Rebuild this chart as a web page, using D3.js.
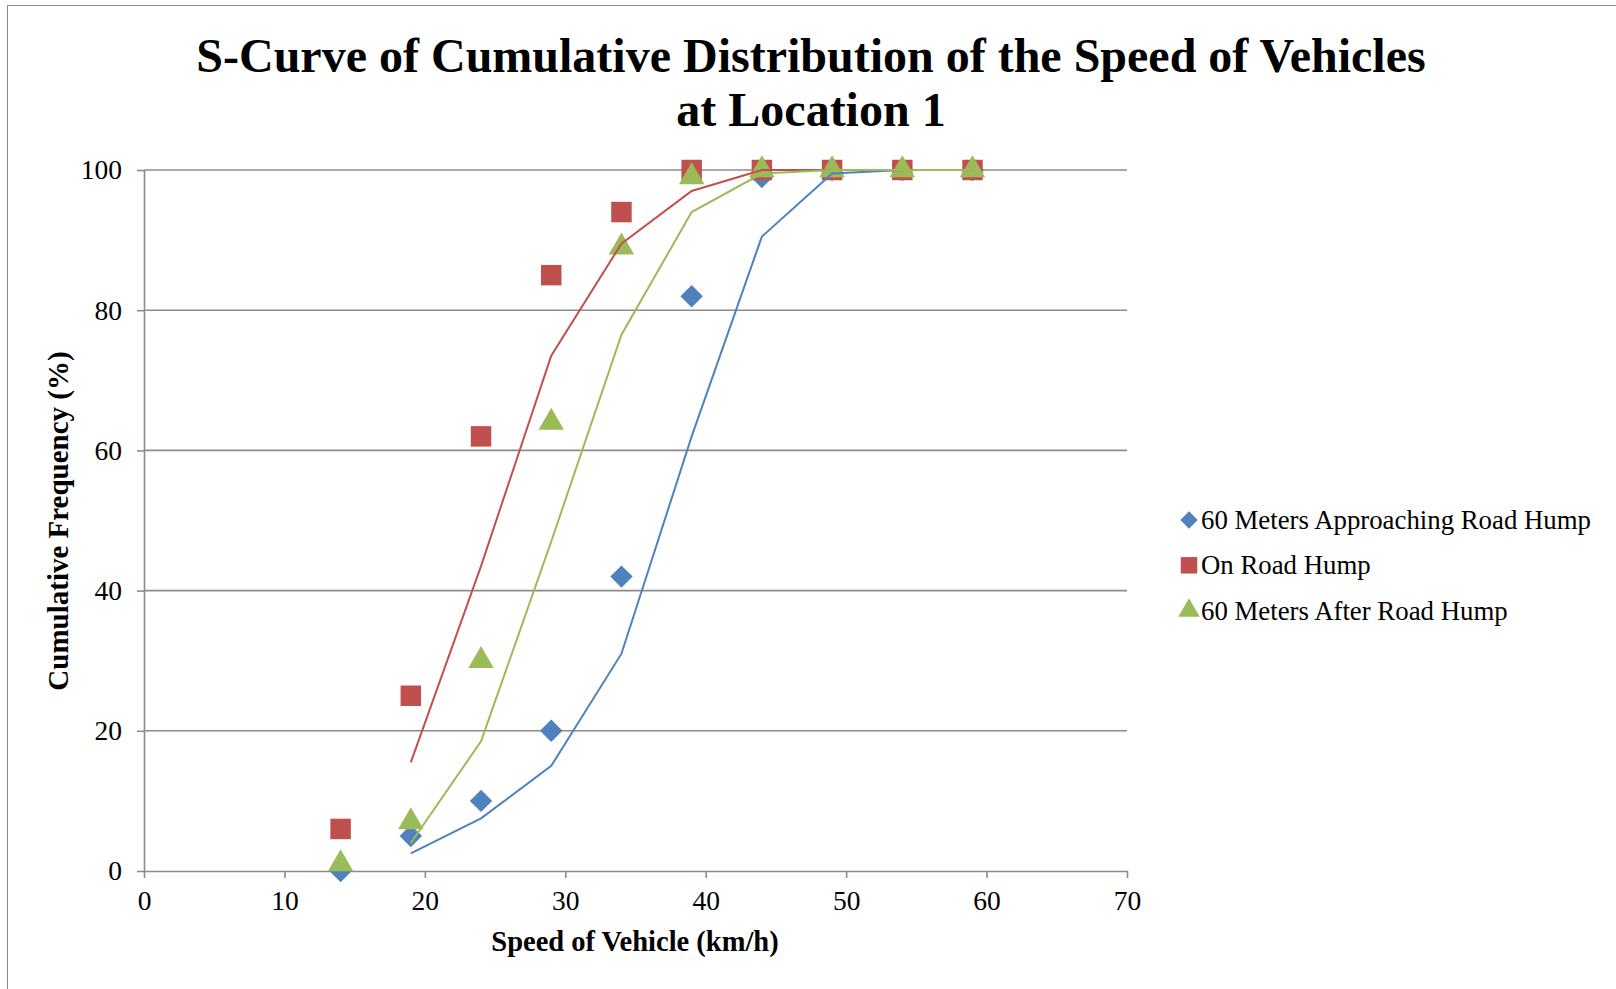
<!DOCTYPE html>
<html>
<head>
<meta charset="utf-8">
<script src="https://cdn.jsdelivr.net/npm/d3@7"></script>
<style>
  html, body { margin: 0; padding: 0; background: #fff; }
  svg { display: block; }
  text { font-family: "Liberation Serif", "Times New Roman", serif; fill: #000; }
</style>
</head>
<body>
<svg id="chart" width="1616" height="989"></svg>
<script>
// ---- Data ----
const speeds = [14, 19, 24, 29, 34, 39, 44, 49, 54, 59];
const approaching = [0, 5, 10, 20, 42, 82, 99, 100, 100, 100];
const onHump = [6, 25, 62, 85, 94, 100, 100, 100, 100, 100];
const afterHump = [1, 7, 30, 64, 89, 99, 100, 100, 100, 100];

// 2-period moving-average trendlines (start at the second speed)
const trendSpeeds = [19, 24, 29, 34, 39, 44, 49, 54, 59];
const approachingTrend = [2.5, 7.5, 15, 31, 62, 90.5, 99.5, 100, 100];
const onHumpTrend = [15.5, 43.5, 73.5, 89.5, 97, 100, 100, 100, 100];
const afterHumpTrend = [4, 18.5, 47, 76.5, 94, 99.5, 100, 100, 100];

const seriesNames = ["60 Meters Approaching Road Hump", "On Road Hump", "60 Meters After Road Hump"];
const xTicks = [0, 10, 20, 30, 40, 50, 60, 70];
const yTicks = [0, 20, 40, 60, 80, 100];
const titleLines = ["S-Curve of Cumulative Distribution of the Speed of Vehicles", "at Location 1"];
const xTitle = "Speed of Vehicle (km/h)";
const yTitle = "Cumulative Frequency (%)";

// ---- Layout ----
const colors = ["#4F81BD", "#C0504D", "#9BBB59"];
const shapes = [d3.symbolDiamond2, d3.symbolSquare, d3.symbolTriangle];
const plot = { left: 144, right: 1127, top: 170, bottom: 871 };

const svg = d3.select("#chart");

// chart border (partially visible)
svg.append("rect").attr("x", 7.5).attr("y", 5.5).attr("width", 1640).attr("height", 1020)
  .attr("fill", "none").attr("stroke", "#8a8a8a").attr("stroke-width", 1);

const x = d3.scaleLinear().domain([0, 70]).range([plot.left, plot.right]);
const y = d3.scaleLinear().domain([0, 100]).range([plot.bottom, plot.top]);

// gridlines
svg.append("g").selectAll("line").data(yTicks.filter(d => d > 0)).join("line")
  .attr("x1", plot.left).attr("x2", plot.right)
  .attr("y1", d => y(d)).attr("y2", d => y(d))
  .attr("stroke", "#8c8c8c").attr("stroke-width", 1.6);

// y axis
const yAxis = svg.append("g").attr("transform", `translate(${plot.left},0)`)
  .call(d3.axisLeft(y).tickValues(yTicks).tickSize(7).tickPadding(15).tickSizeOuter(0));
// x axis
const xAxis = svg.append("g").attr("transform", `translate(0,${plot.bottom})`)
  .call(d3.axisBottom(x).tickValues(xTicks).tickSize(7).tickPadding(12).tickSizeOuter(0));

[xAxis, yAxis].forEach(a => {
  a.select(".domain").attr("stroke", "#8c8c8c").attr("stroke-width", 1.6);
  a.selectAll(".tick line").attr("stroke", "#8c8c8c").attr("stroke-width", 1.6);
  a.selectAll(".tick text").style("font-family", '"Liberation Serif", serif').style("font-size", "27.5px").attr("fill", "#000");
});

const valueSets = [approaching, onHump, afterHump];
const trendSets = [approachingTrend, onHumpTrend, afterHumpTrend];
const symbolSizes = [320, 420, 280];

// markers
valueSets.forEach((vals, i) => {
  svg.append("g").selectAll("path").data(speeds.map((s, j) => [s, vals[j]])).join("path")
    .attr("transform", d => `translate(${x(d[0])},${y(d[1])})`)
    .attr("d", d3.symbol().type(shapes[i]).size(symbolSizes[i]))
    .attr("fill", colors[i]);
});

// trendlines
const line = d3.line().x(d => x(d[0])).y(d => y(d[1]));
trendSets.forEach((vals, i) => {
  svg.append("path").datum(trendSpeeds.map((s, j) => [s, vals[j]]))
    .attr("d", line).attr("fill", "none").attr("stroke", colors[i]).attr("stroke-width", 2);
});

// title
const title = svg.append("text").attr("text-anchor", "middle")
  .style("font-size", "48px").style("font-weight", "bold");
titleLines.forEach((t, i) => {
  title.append("tspan").attr("x", 811).attr("y", 72 + i * 54).text(t);
});

// axis titles
svg.append("text").attr("x", 635).attr("y", 951).attr("text-anchor", "middle")
  .style("font-size", "28.5px").style("font-weight", "bold").text(xTitle);
svg.append("text").attr("transform", "translate(68,521) rotate(-90)").attr("text-anchor", "middle")
  .style("font-size", "29px").style("font-weight", "bold").text(yTitle);

// legend
const legend = svg.append("g");
seriesNames.forEach((name, i) => {
  const cy = 520 + i * 45.3;
  legend.append("path").attr("transform", `translate(1189,${cy})`)
    .attr("d", d3.symbol().type(shapes[i]).size([190, 270, 200][i])).attr("fill", colors[i]);
  legend.append("text").attr("x", 1201).attr("y", cy + 9)
    .style("font-size", "26.8px").text(name);
});
</script>
</body>
</html>
